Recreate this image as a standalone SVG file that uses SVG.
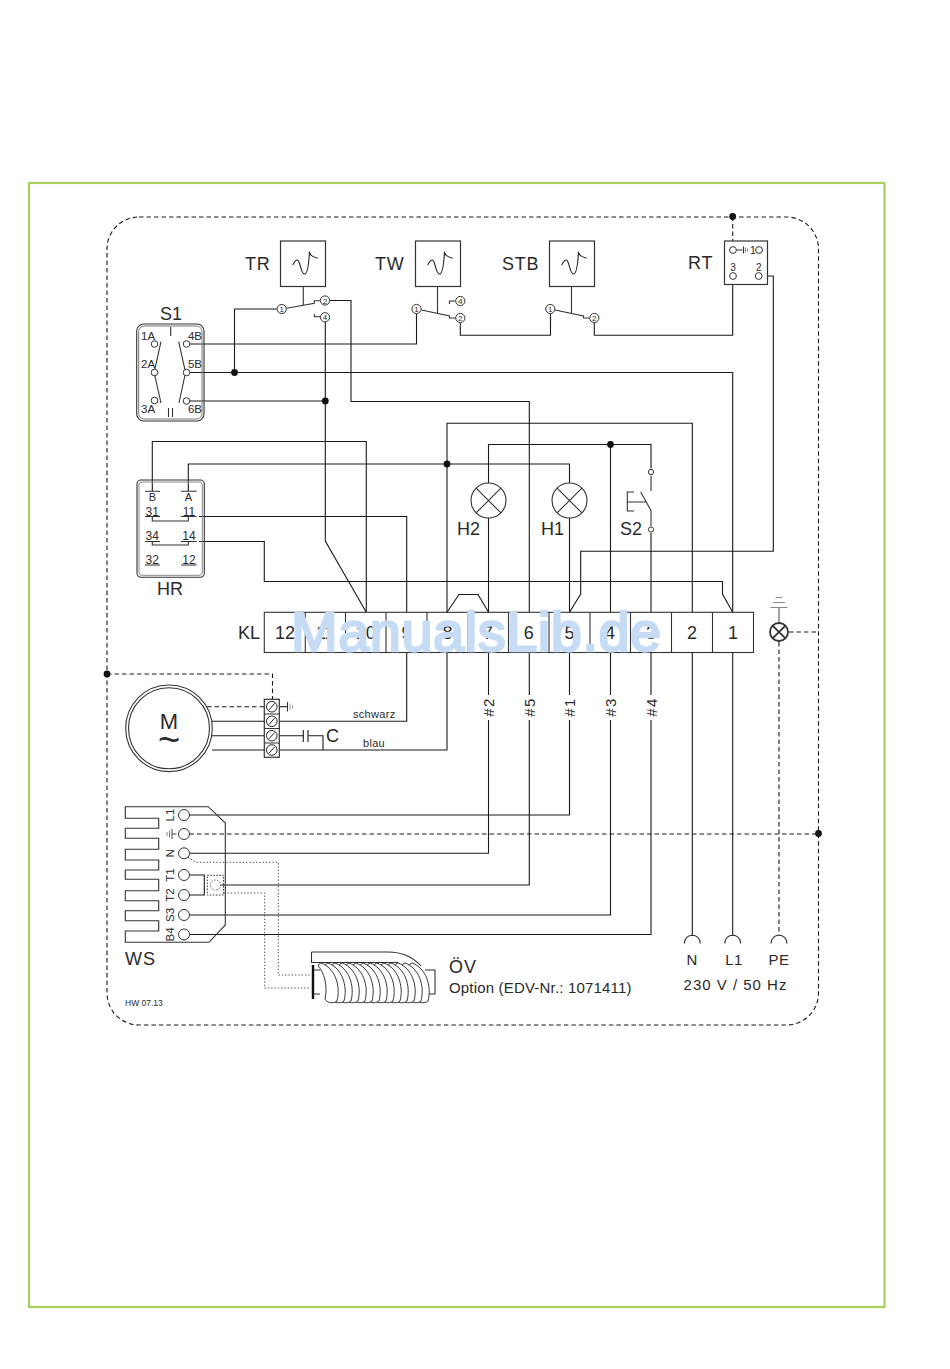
<svg xmlns="http://www.w3.org/2000/svg" width="950" height="1369" viewBox="0 0 950 1369">
<style>
text{font-family:"Liberation Sans",Arial,sans-serif;fill:#2a2a2a}
.w path,.w line{fill:none;stroke:#1a1a1a;stroke-width:1.1}
.d path,.d line{fill:none;stroke:#1a1a1a;stroke-width:1.1;stroke-dasharray:4.5 3}
.o path{fill:none;stroke:#444;stroke-width:1;stroke-dasharray:1.3 2}
.b{fill:#fff;stroke:#333;stroke-width:1.2}
.c{fill:#fff;stroke:#333;stroke-width:1}
.p{fill:#111;stroke:none}
.l{font-size:18px;letter-spacing:.8px}
.s{font-size:11.5px}
.m{font-size:12px;text-anchor:middle}
.n{font-size:18px;text-anchor:middle}
.h{font-size:15px;text-anchor:middle;letter-spacing:1.5px}
.k{font-size:8px;text-anchor:middle}
.g{fill:none;stroke:#333;stroke-width:1.1}
.coil{fill:#fff;stroke:#222;stroke-width:.9}
</style>
<defs>
<path id="curve" d="M12.2 24C14 20.500 15.500 18.500 17 19C20 20 20 33 24 33C27.500 33 28.500 20 29 10.700M28.500 10.700C30 15 33 16 37.200 17.300" fill="none" stroke="#222" stroke-width="1.100"/>
<g id="screw"><circle r="5.300" fill="#fff" stroke="#222" stroke-width="1"/><line x1="-2.800" y1="3.200" x2="2.800" y2="-3.200" stroke="#222" stroke-width="1"/></g>
<path id="loop" class="coil" d="M0 963C14 968 20 986 16 1001C12 1004 6 1003 4 999C7 986 3 972 -3 966Q-2 963 0 963Z"/>
</defs>
<rect x="29" y="183" width="855.500" height="1124" fill="#fff" stroke="#a9cf5e" stroke-width="2.200"/>

<g id="connectors">
<g class="d">
<rect x="107" y="217" width="711.500" height="808" rx="32" fill="none" stroke="#1a1a1a" stroke-width="1.100" stroke-dasharray="4.500 3"/>
<path d="M732.700 216.500V246"/>
<path d="M107 674H272.500V699"/>
<path d="M207 706.700H264"/>
<path d="M189.500 834H818.500"/>
<path d="M789 632H818.500"/>
<path d="M779 642V935"/>
</g>
<g class="w">
<path d="M276.700 309H234.500V372.500"/>
<path d="M190 372.500H732.700V612.300"/>
<path d="M190 344H416.500V314"/>
<path d="M190 401H325.300"/>
<path d="M325.300 322V541L366.300 612.300"/>
<path d="M330 300.500H351V401.500H529.300V612.300"/>
<path d="M732.700 281V335.300H594.300V323"/>
<path d="M460.300 323V335.300H550.500V314"/>
<path d="M762.500 276H773.300V551.300H580.700V594L569.500 612.300"/>
<path d="M366.300 612.300V441.500H152.300V491.300"/>
<path d="M188.300 491.300V464H569.500V483"/>
<path d="M569.500 518V612.300"/>
<path d="M447 612.300V423.300H692.300V612.300"/>
<path d="M488.500 483V444.500H651V468.500"/>
<path d="M610.500 444.500V612.300"/>
<path d="M651 533V612.300"/>
<path d="M488.500 518V612.300"/>
<path d="M447 612.300L459 594.500H478L488.500 612.300"/>
<path d="M199 516.500H406.700V612.300"/>
<path d="M199 541.500H264.300V581.500H722.500V594L732.700 612.300"/>
<path d="M406.700 652.500V721.300H279.300"/>
<path d="M447 652.500V750H279.300"/>
<path d="M212 721.300H264.300M212 735.700H264.300M212 750H264.300"/>
<path d="M279.300 735.700H303.300M308 735.700H323V750"/>
<path d="M303.300 730V742M308 730V742"/>
<path d="M279.300 706.700H287"/>
<path d="M488.500 652.500V695M488.500 720V853.300H189.500"/>
<path d="M529.300 652.500V695M529.300 720V885H221"/>
<path d="M569.500 652.500V695M569.500 720V815H189.500"/>
<path d="M610.500 652.500V695M610.500 720V915H189.500"/>
<path d="M651 652.500V695M651 720V934.500H189.500"/>
<path d="M692.300 652.500V936"/>
<path d="M732.700 652.500V936"/>
<path d="M189.500 875H204.300V895H189.500"/>
</g>
<g class="o">
<path d="M188 857.500L196 862.300H278.300V975H311"/>
<path d="M221 893H264.700V988H311"/>
</g>
<circle class="p" cx="234.500" cy="372.500" r="3.400"/>
<circle class="p" cx="325.300" cy="401" r="3.400"/>
<circle class="p" cx="447" cy="464" r="3.400"/>
<circle class="p" cx="610.500" cy="444.500" r="3.400"/>
<circle class="p" cx="732.700" cy="216.500" r="3.400"/>
<circle class="p" cx="107" cy="674" r="3.400"/>
<circle class="p" cx="818.500" cy="833.500" r="3.400"/>
</g>

<g id="TR">
<rect class="b" x="280.500" y="241" width="45" height="45.500"/><use href="#curve" x="280.500" y="241"/>
<text class="l" x="245" y="270">TR</text>
<path class="g" d="M303.300 286.500V305M286.700 308.300L314.300 303.300V300.700H320M314.300 314V316.700H320"/>
<circle class="c" cx="281.700" cy="309" r="4.600"/><text class="k" x="281.700" y="312">1</text>
<circle class="c" cx="325" cy="300.500" r="4.600"/><text class="k" x="325" y="303.500">2</text>
<circle class="c" cx="325" cy="317.300" r="4.600"/><text class="k" x="325" y="320.300">4</text>
</g>
<g id="TW">
<rect class="b" x="415.500" y="241" width="45" height="45.500"/><use href="#curve" x="415.500" y="241"/>
<text class="l" x="375" y="270">TW</text>
<path class="g" d="M437.500 286.500V313M421.500 310L449.500 316V318H455M449.500 304V301H455"/>
<circle class="c" cx="416.500" cy="309" r="4.600"/><text class="k" x="416.500" y="312">1</text>
<circle class="c" cx="460.300" cy="301" r="4.600"/><text class="k" x="460.300" y="304">4</text>
<circle class="c" cx="460.300" cy="318" r="4.600"/><text class="k" x="460.300" y="321">2</text>
</g>
<g id="STB">
<rect class="b" x="549.500" y="241" width="45" height="45.500"/><use href="#curve" x="549.500" y="241"/>
<text class="l" x="502" y="270">STB</text>
<path class="g" d="M571.500 286.500V313.500M555 310L583.500 316V318H589"/>
<circle class="c" cx="550.300" cy="309" r="4.600"/><text class="k" x="550.300" y="312">1</text>
<circle class="c" cx="594.300" cy="318" r="4.600"/><text class="k" x="594.300" y="321">2</text>
</g>
<g id="RT">
<rect class="b" x="724.500" y="241" width="43" height="43.500"/>
<text class="l" x="688" y="269">RT</text>
<path class="g" d="M736.500 250H742.500M743.500 246.500V253.500" stroke-width=".9"/>
<path d="M745.500 247.500V252.500M747.500 248.500V251.500" fill="none" stroke="#666" stroke-width=".8"/>
<circle class="c" cx="733" cy="250" r="3.400"/><circle class="c" cx="759" cy="250" r="3.400"/>
<circle class="c" cx="733" cy="276" r="3.400"/><circle class="c" cx="758.700" cy="276" r="3.400"/>
<text x="750" y="254" font-size="10.500">1</text>
<text x="733" y="271" font-size="10" text-anchor="middle">3</text>
<text x="758.700" y="271" font-size="10" text-anchor="middle">2</text>
</g>
<g id="S1">
<rect class="g" x="136.700" y="324" width="67.300" height="97" rx="7"/>
<rect x="138.700" y="326" width="63.300" height="93" rx="5.500" fill="none" stroke="#777" stroke-width="1"/>
<text class="l" x="160" y="320" style="letter-spacing:0">S1</text>
<path class="g" d="M170.700 327V336M168.500 408V417M172.500 408V417M161 341.700L154.700 370M154.700 375L161 403M178.700 341.700L185 370M185 375L179 403"/>
<circle class="c" cx="154.500" cy="344" r="3.300"/><circle class="c" cx="154.500" cy="372.500" r="3.300"/><circle class="c" cx="154.500" cy="400.500" r="3.300"/>
<circle class="c" cx="186.500" cy="344" r="3.300"/><circle class="c" cx="186.500" cy="372.500" r="3.300"/><circle class="c" cx="186.500" cy="401" r="3.300"/>
<text class="s" x="141" y="340">1A</text><text class="s" x="141" y="368">2A</text><text class="s" x="141" y="413">3A</text>
<text class="s" x="202" y="340" text-anchor="end">4B</text><text class="s" x="202" y="368" text-anchor="end">5B</text><text class="s" x="202" y="413" text-anchor="end">6B</text>
</g>
<g id="HR">
<rect class="g" x="137" y="480" width="67.300" height="97.300" rx="4"/>
<rect x="139" y="482" width="63.300" height="93.300" rx="3" fill="none" stroke="#888" stroke-width="1"/>
<text class="l" x="157" y="595" style="letter-spacing:0">HR</text>
<path class="g" d="M145 491.300H160M181 491.300H196.700M145 516.500H160M181 516.500H196.700M145 541.500H160M181 541.500H196.700M145 565H160M181 565H196.700M152.300 516.500V521H188.300V516.500M152.300 541.500V545H188.300V541.500"/>
<text class="m" x="152.300" y="500.700" style="font-size:11px">B</text><text class="m" x="188.300" y="500.700" style="font-size:11px">A</text>
<text class="m" x="152.300" y="515.500">31</text><text class="m" x="189" y="515.500">11</text>
<text class="m" x="152.300" y="540">34</text><text class="m" x="189" y="540">14</text>
<text class="m" x="152.300" y="563.500">32</text><text class="m" x="189" y="563.500">12</text>
</g>
<g id="H2"><circle cx="488.500" cy="500.500" r="17.500" class="g"/><path class="g" d="M476.100 488.100L500.900 512.900M500.900 488.100L476.100 512.900"/><text class="l" x="457" y="535" style="letter-spacing:0">H2</text></g>
<g id="H1"><circle cx="569.500" cy="500.500" r="17.500" class="g"/><path class="g" d="M557.100 488.100L581.900 512.900M581.900 488.100L557.100 512.900"/><text class="l" x="541" y="535" style="letter-spacing:0">H1</text></g>
<g id="S2">
<path class="g" d="M651 475.500V491M640.700 492L651 510.500V526M634 492H627.300V511H634M627.300 502H646"/>
<circle class="c" cx="651" cy="472" r="2.600"/><circle class="c" cx="651" cy="529.500" r="2.600"/>
<text class="l" x="620" y="535" style="letter-spacing:0">S2</text>
</g>
<g id="KL">
<rect class="g" x="264.300" y="612.300" width="489.200" height="40.200"/>
<path class="g" d="M305.300 612.300V652.500M345.500 612.300V652.500M386 612.300V652.500M427 612.300V652.500M468 612.300V652.500M508.500 612.300V652.500M549 612.300V652.500M590 612.300V652.500M630.500 612.300V652.500M671.500 612.300V652.500M712.500 612.300V652.500"/>
<text class="l" x="238" y="639" style="letter-spacing:0">KL</text>
<text class="n" x="285" y="639">12</text><text class="n" x="325.300" y="639">11</text><text class="n" x="365.700" y="639">10</text><text class="n" x="406.500" y="639">9</text><text class="n" x="447.500" y="639">8</text><text class="n" x="488" y="639">7</text><text class="n" x="528.700" y="639">6</text><text class="n" x="569.500" y="639">5</text><text class="n" x="610" y="639">4</text><text class="n" x="651" y="639">3</text><text class="n" x="692" y="639">2</text><text class="n" x="733" y="639">1</text>
</g>
<g id="PE-lamp">
<path d="M779 608V622" stroke="#555" stroke-width="1.100" fill="none"/>
<path d="M770.500 607.500H787.500M773 602.500H785M775.500 597.500H782.500" stroke="#888" stroke-width="1.100" fill="none"/>
<circle cx="779" cy="632" r="9" fill="#fff" stroke="#333" stroke-width="1.800"/>
<path d="M772.800 625.800L785.200 638.200M785.200 625.800L772.800 638.200" stroke="#333" stroke-width="1.800"/>
</g>
<g id="M">
<circle cx="169" cy="728.300" r="43.300" class="g"/><circle cx="169" cy="728.300" r="40.500" class="g"/>
<text x="169" y="729" font-size="22" text-anchor="middle">M</text>
<text x="169" y="753" font-size="38" text-anchor="middle">~</text>
</g>
<g id="terminal-block">
<rect class="b" x="264.300" y="699.300" width="15" height="58"/>
<path class="g" d="M264.300 714H279.300M264.300 728.500H279.300M264.300 743H279.300"/>
<use href="#screw" x="271.800" y="706.700"/><use href="#screw" x="271.800" y="721.300"/><use href="#screw" x="271.800" y="735.700"/><use href="#screw" x="271.800" y="750"/>
<path d="M287.500 702V711.500" stroke="#333" stroke-width="1" fill="none"/>
<path d="M290 703.500V710M292.500 705V708.500" stroke="#888" stroke-width=".8" fill="none"/>
</g>
<g id="C"><text x="326" y="742" font-size="18">C</text></g>
<text x="353" y="718" font-size="11" letter-spacing=".3">schwarz</text>
<text x="363" y="747" font-size="11" letter-spacing=".3">blau</text>
<g id="WS">
<path class="g" d="M225.300 823V925L209 942.300H125.300V931H158.700V920.700H125.300V910.700H158.700V900.700H125.300V890.700H158.700V879.300H125.300V870H158.700V860H125.300V849.300H158.700V838.300H125.300V828.300H158.700V818.300H125.300V806.700H208.300Z"/>
<g>
<circle class="c" cx="184" cy="815" r="5.500"/><circle class="c" cx="184" cy="834" r="5.500"/><circle class="c" cx="184" cy="853.300" r="5.500"/><circle class="c" cx="184" cy="875" r="5.500"/><circle class="c" cx="184" cy="895" r="5.500"/><circle class="c" cx="184" cy="915" r="5.500"/><circle class="c" cx="184" cy="934.500" r="5.500"/>
</g>
<path d="M172 829V839M172 834H176.500" fill="none" stroke="#333" stroke-width=".9"/>
<path d="M169.500 830.500V837.500M167 832V836" fill="none" stroke="#666" stroke-width=".8"/>
<text class="s" transform="translate(174 815) rotate(-90)" text-anchor="middle">L1</text>
<text class="s" transform="translate(174 853.300) rotate(-90)" text-anchor="middle">N</text>
<text class="s" transform="translate(174 875) rotate(-90)" text-anchor="middle">T1</text>
<text class="s" transform="translate(174 895) rotate(-90)" text-anchor="middle">T2</text>
<text class="s" transform="translate(174 915) rotate(-90)" text-anchor="middle">S3</text>
<text class="s" transform="translate(174 934.500) rotate(-90)" text-anchor="middle">B4</text>
<rect x="207.300" y="875.300" width="16.200" height="19.700" fill="#fff" stroke="#333" stroke-width="1" stroke-dasharray="1.500 1.500"/>
<circle cx="215.500" cy="885" r="5" fill="#fff" stroke="#666" stroke-width="1" stroke-dasharray="1.500 1.200"/>
<path d="M221 885H224" class="g"/>
<text x="125" y="965" font-size="18" letter-spacing="1">WS</text>
</g>
<g id="OV">
<path class="g" d="M425 970H435V994H425M320 970H312.500V994H320"/>
<path class="g" d="M311.500 952H388C403 952 413 957 421 966M311.500 952V962.500H398"/>
<g id="coil">
<use href="#loop" x="412"/><use href="#loop" x="405"/><use href="#loop" x="398"/><use href="#loop" x="391"/><use href="#loop" x="384"/><use href="#loop" x="377"/><use href="#loop" x="370"/><use href="#loop" x="363"/><use href="#loop" x="356"/><use href="#loop" x="349"/><use href="#loop" x="342"/><use href="#loop" x="335"/><use href="#loop" x="328"/><use href="#loop" x="321"/>
</g>
<path d="M313 965V999" stroke="#111" stroke-width="2.400" fill="none"/>
<text x="449" y="973" font-size="18" letter-spacing="1">ÖV</text>
<text x="449" y="993" font-size="15" letter-spacing=".18">Option (EDV-Nr.: 1071411)</text>
</g>
<g id="mains">
<path class="g" d="M684.300 943.500C684.300 932.500 700.300 932.500 700.300 943.500M724.700 943.500C724.700 932.500 740.700 932.500 740.700 943.500M771 943.500C771 932.500 787 932.500 787 943.500"/>
<text x="692" y="965" font-size="15" text-anchor="middle">N</text>
<text x="734" y="965" font-size="15" text-anchor="middle" letter-spacing=".5">L1</text>
<text x="779" y="965" font-size="15" text-anchor="middle" letter-spacing=".5">PE</text>
<text x="735.500" y="989.500" font-size="15" text-anchor="middle" letter-spacing="1">230 V / 50 Hz</text>
</g>
<text class="h" transform="translate(494 707) rotate(-90)">#2</text>
<text class="h" transform="translate(534.800 707) rotate(-90)">#5</text>
<text class="h" transform="translate(575 707) rotate(-90)">#1</text>
<text class="h" transform="translate(616 707) rotate(-90)">#3</text>
<text class="h" transform="translate(656.500 707) rotate(-90)">#4</text>
<text x="125" y="1006" font-size="8.500" fill="#444">HW 07.13</text>
<text id="watermark" x="291" y="651" font-size="56" style="fill:#c6dcf5;stroke:#c6dcf5;stroke-width:2.400px;letter-spacing:.5px">ManualsLib.de</text>
</svg>
